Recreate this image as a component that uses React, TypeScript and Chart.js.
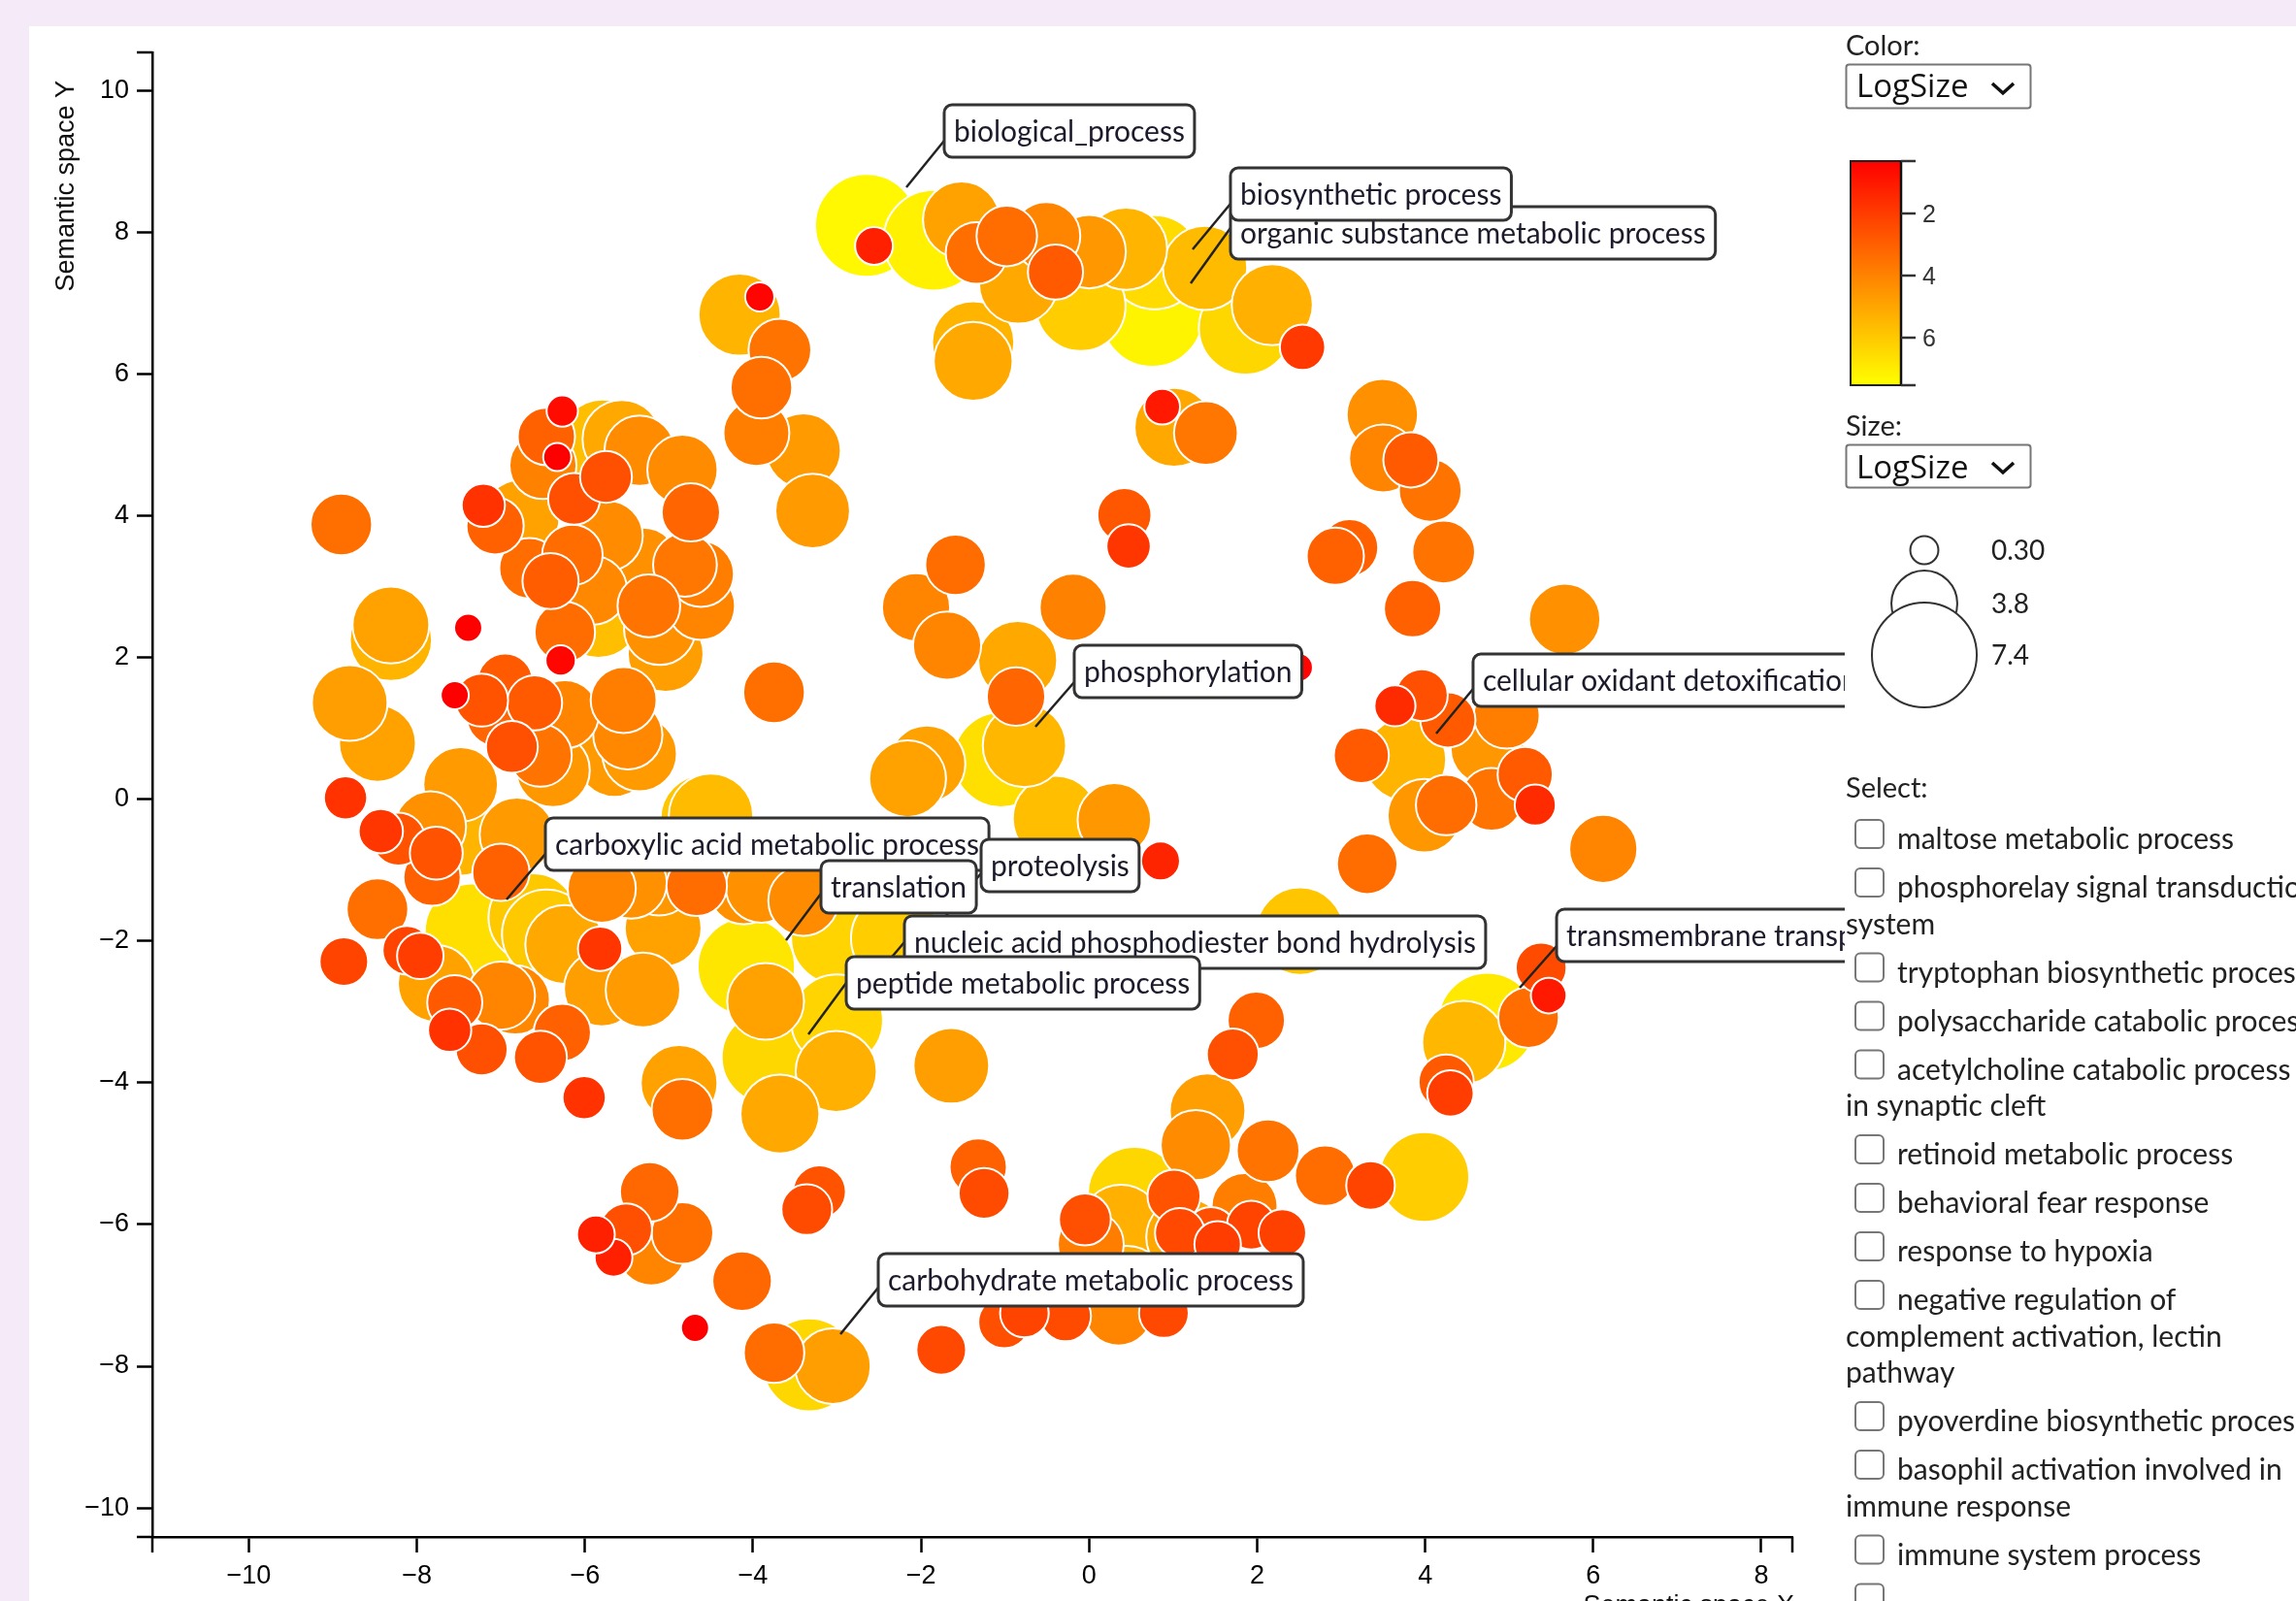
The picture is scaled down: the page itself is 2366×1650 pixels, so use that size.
import React, { useEffect, useRef } from "react";
import { Chart, registerables } from "chart.js";

Chart.register(...registerables);

// ---------- data (semantic space coordinates and LogSize of each GO term) ----------
const TERM_X = [
  -2.65, -2.56, -1.85, -1.52, -1.34, -0.98, -0.84, -0.51, -0.40, 0.00,
  0.44, -0.10, 0.78, 1.38, 0.75, 1.86, 2.18, 2.54, -4.16, -3.92,
  -3.68, -3.90, -3.96, -3.40, -3.29, -1.38, -1.38, 0.87, 1.01, 1.39,
  -8.90, -6.27, -6.46, -6.50, -6.33, -6.13, -5.75, -5.79, -5.56, -5.35,
  -4.84, -4.74, -7.21, -7.07, -6.76, -6.66, -6.41, -6.15, -5.73, -5.91,
  -5.84, -5.31, -4.81, -4.62, -5.24, -5.11, -4.62, -5.04, -6.24, -6.29,
  -7.39, -8.31, -8.31, -8.80, -8.47, -7.55, -8.85, -7.48, -6.95, -7.06,
  -6.87, -6.60, -6.24, -6.53, -6.38, -5.54, -5.49, -5.65, -5.35, -7.23,
  -8.43, -8.22, -7.84, -7.49, -7.82, -7.77, -8.47, -8.87, -8.12, -7.96,
  -7.34, -7.00, -6.81, -6.62, -6.46, -6.24, -7.77, -7.00, -6.83, -7.55,
  -7.61, -7.23, -6.53, -6.27, -5.82, -5.80, -5.31, -5.07, -5.45, -5.80,
  -5.12, -4.67, -4.11, -4.50, -4.08, -4.88, -4.84, -6.01, -5.23, -4.84,
  -5.21, -5.66, -5.87, -5.51, -1.59, -2.06, -1.69, -0.19, 0.42, 0.47,
  -3.75, -0.85, -0.87, 2.49, -0.77, -1.05, -1.93, -2.16, -0.40, 0.30,
  0.85, 3.31, 2.51, 1.99, 1.71, -4.58, -3.90, -3.40, -3.85, -3.00,
  -2.30, -3.00, -3.82, -1.64, -3.01, -3.68, 1.41, 1.27, 2.13, 2.81,
  3.35, 3.99, -1.32, -1.25, -3.21, -3.36, -4.13, -4.69, -3.75, -3.33,
  -3.05, -1.76, -0.05, 0.54, 1.01, 1.15, 1.85, 1.93, 2.30, 1.08,
  1.45, 1.53, 0.02, 0.38, -1.01, -0.28, 0.35, 0.89, -0.77, 0.45,
  3.49, 3.50, 3.83, 4.06, 3.10, 2.93, 4.22, 3.85, 5.66, 3.64,
  3.96, 4.27, 3.76, 3.24, 4.74, 4.97, 5.19, 4.79, 4.25, 3.99,
  5.31, 6.12, 5.38, 5.47, 5.23, 4.74, 4.46, 4.25, 4.30,
];
const TERM_Y = [
  8.10, 7.81, 7.89, 8.18, 7.71, 7.95, 7.27, 7.95, 7.44, 7.73,
  7.77, 6.96, 7.58, 7.50, 6.82, 6.65, 6.98, 6.38, 6.84, 7.09,
  6.34, 5.81, 5.17, 4.92, 4.07, 6.45, 6.18, 5.54, 5.25, 5.17,
  3.88, 5.48, 5.12, 4.71, 4.83, 4.24, 4.55, 5.04, 5.08, 4.92,
  4.65, 4.05, 4.15, 3.86, 3.97, 3.26, 3.08, 3.45, 3.72, 2.95,
  2.60, 3.33, 3.31, 3.18, 2.73, 2.40, 2.73, 2.05, 2.36, 1.96,
  2.42, 2.25, 2.46, 1.36, 0.79, 1.47, 0.02, 0.21, 1.67, 1.16,
  0.74, 1.36, 1.20, 0.62, 0.41, 1.40, 0.91, 0.56, 0.64, 1.40,
  -0.45, -0.56, -0.39, -0.50, -1.10, -0.76, -1.55, -2.29, -2.13, -2.21,
  -1.86, -1.03, -0.50, -1.67, -1.90, -2.05, -2.60, -2.77, -2.83, -2.87,
  -3.26, -3.53, -3.64, -3.29, -2.11, -2.67, -2.69, -1.82, -1.18, -1.26,
  -1.12, -1.22, -1.26, -0.23, -2.36, -4.01, -4.38, -4.21, -5.54, -6.12,
  -6.38, -6.47, -6.14, -6.07, 3.31, 2.71, 2.17, 2.71, 4.01, 3.57,
  1.51, 1.96, 1.45, 1.86, 0.76, 0.56, 0.50, 0.29, -0.27, -0.29,
  -0.87, -0.91, -1.86, -3.12, -3.60, -0.27, -1.24, -1.43, -2.85, -1.96,
  -1.96, -3.12, -3.64, -3.76, -3.84, -4.44, -4.40, -4.88, -4.96, -5.31,
  -5.45, -5.33, -5.19, -5.56, -5.54, -5.79, -6.80, -7.46, -7.81, -7.98,
  -8.00, -7.77, -5.93, -5.56, -5.60, -6.18, -5.74, -6.01, -6.12, -6.12,
  -6.12, -6.28, -6.28, -6.01, -7.38, -7.29, -7.23, -7.25, -7.25, -6.86,
  5.43, 4.81, 4.79, 4.36, 3.55, 3.43, 3.49, 2.69, 2.54, 1.32,
  1.47, 1.12, 0.56, 0.62, 0.72, 1.18, 0.35, 0.00, -0.08, -0.23,
  -0.08, -0.70, -2.38, -2.77, -3.08, -3.14, -3.43, -3.99, -4.15,
];
const TERM_LOGSIZE = [
  7.2, 1.2, 7.0, 4.8, 3.4, 3.3, 5.0, 4.0, 2.8, 4.5,
  5.3, 6.0, 6.4, 5.5, 7.1, 6.3, 5.2, 1.9, 5.3, 0.4,
  3.5, 3.4, 3.8, 4.6, 4.6, 5.3, 5.0, 1.0, 5.0, 3.6,
  3.4, 0.6, 3.0, 3.9, 0.3, 2.5, 2.5, 5.6, 5.0, 4.2,
  4.2, 3.1, 1.7, 3.0, 4.8, 3.3, 2.9, 3.3, 4.2, 4.1,
  5.6, 4.3, 3.6, 3.8, 3.5, 4.3, 4.0, 4.7, 3.3, 0.5,
  0.3, 5.3, 4.8, 4.7, 4.8, 0.3, 1.7, 4.6, 2.8, 3.1,
  2.5, 2.8, 4.0, 3.5, 4.5, 3.8, 4.1, 4.6, 4.6, 2.6,
  1.8, 2.6, 4.3, 5.3, 3.0, 2.6, 3.4, 2.2, 2.2, 2.0,
  6.5, 3.0, 4.6, 5.9, 5.9, 5.0, 4.8, 4.0, 4.1, 2.8,
  1.7, 2.5, 2.6, 3.0, 1.8, 4.7, 4.6, 4.8, 4.3, 4.0,
  4.5, 3.3, 4.3, 5.5, 6.7, 4.8, 3.4, 1.7, 3.2, 3.4,
  4.0, 1.2, 1.2, 2.5, 3.3, 4.0, 4.0, 3.9, 2.7, 1.8,
  3.4, 5.0, 3.1, 0.4, 5.4, 6.5, 4.8, 4.8, 5.6, 4.5,
  1.3, 3.3, 5.8, 3.0, 2.5, 5.8, 4.3, 4.2, 4.8, 6.2,
  6.0, 6.2, 6.3, 4.7, 5.2, 5.0, 4.7, 4.2, 3.5, 3.3,
  2.2, 6.0, 3.0, 2.4, 2.6, 2.4, 3.2, 0.3, 3.3, 6.3,
  4.7, 2.3, 2.5, 6.3, 2.6, 5.0, 3.8, 2.2, 2.1, 2.3,
  2.5, 2.0, 3.8, 5.2, 2.5, 2.4, 4.0, 2.3, 2.2, 5.0,
  4.3, 4.0, 2.8, 3.5, 3.0, 3.0, 3.5, 3.0, 4.3, 1.5,
  2.5, 2.8, 5.3, 2.8, 4.5, 3.8, 2.8, 3.5, 3.3, 4.5,
  1.5, 4.0, 2.4, 1.0, 3.3, 6.8, 5.4, 2.8, 2.0,
];

const X_TICKS = [-10, -8, -6, -4, -2, 0, 2, 4, 6, 8];
const Y_TICKS = [-10, -8, -6, -4, -2, 0, 2, 4, 6, 8, 10];
const X_MIN = -11.149;
const X_MAX = 8.37;
const Y_MIN = -10.41;
const Y_MAX = 10.541;
const X_TITLE = "Semantic space X";
const Y_TITLE = "Semantic space Y";

// labelled terms: text and the point (in semantic space) where the leader line starts
const LABEL_TEXT = [
  "biological_process",
  "organic substance metabolic process",
  "biosynthetic process",
  "phosphorylation",
  "cellular oxidant detoxification",
  "carboxylic acid metabolic process",
  "proteolysis",
  "translation",
  "nucleic acid phosphodiester bond hydrolysis",
  "peptide metabolic process",
  "transmembrane transport",
  "carbohydrate metabolic process",
];
const LABEL_X = [-2.175, 1.209, 1.232, -0.639, 4.131, -6.933, -1.782, -3.607, -2.66, -3.341, 5.125, -2.96];
const LABEL_Y = [8.638, 7.282, 7.761, 1.024, 0.928, -1.413, -1.755, -1.988, -2.659, -3.317, -2.659, -7.548];
// layout only: box offset from the anchor (px) and where the leader meets the box
const LABEL_LAYOUT = [
  [39, -85, 37], [41, -79, 22], [39, -84, 37], [40, -84, 38], [38, -82, 36], [40, -84, 37],
  [43, -87, 35], [36, -82, 34], [40, -74, 27], [39, -80, 27], [38, -81, 38], [39, -83, 35],
];

// legends
const LOGSIZE_MIN = 0.3;
const LOGSIZE_MAX = 7.4;
const COLOR_TICKS = [2, 4, 6];
const SIZE_LEGEND = [0.3, 3.8, 7.4];
const SIZE_LEGEND_LABELS = ["0.30", "3.8", "7.4"];
const SELECT_OPTIONS = ["LogSize", "LogSize"];
const SELECT_TERMS = [
  ["maltose metabolic process"],
  ["phosphorelay signal transduction", "system"],
  ["tryptophan biosynthetic process"],
  ["polysaccharide catabolic process"],
  ["acetylcholine catabolic process", "in synaptic cleft"],
  ["retinoid metabolic process"],
  ["behavioral fear response"],
  ["response to hypoxia"],
  ["negative regulation of", "complement activation, lectin", "pathway"],
  ["pyoverdine biosynthetic process"],
  ["basophil activation involved in", "immune response"],
  ["immune system process"],
  [""],
];

// ---------- helpers ----------
function colorOf(v: number): string {
  const t = Math.max(0, Math.min(1, (v - LOGSIZE_MIN) / (LOGSIZE_MAX - LOGSIZE_MIN)));
  return `rgb(255,${Math.round(255 * t)},0)`;
}
function radiusOf(v: number): number {
  return 12.8 + 5.57 * v;
}
function fmtTick(v: number): string {
  return v < 0 ? "\u2212" + Math.abs(v) : String(v);
}

const AXIS_FONT = '"Liberation Sans", Arial, sans-serif';
const LABEL_FONT = 'Lato, "Open Sans", sans-serif';

const overlayPlugin = {
  id: "overlay",
  afterDatasetsDraw(chart: any) {
    const { ctx, chartArea: a, scales } = chart;
    const xs = scales.x;
    const ys = scales.y;
    ctx.save();
    // outer ticks (d3 style)
    ctx.strokeStyle = "#000";
    ctx.lineWidth = 2.5;
    ctx.beginPath();
    ctx.moveTo(a.left - 16, a.top);
    ctx.lineTo(a.left, a.top);
    ctx.moveTo(a.left - 16, a.bottom);
    ctx.lineTo(a.left, a.bottom);
    ctx.moveTo(a.left, a.bottom);
    ctx.lineTo(a.left, a.bottom + 16);
    ctx.moveTo(a.right, a.bottom);
    ctx.lineTo(a.right, a.bottom + 16);
    ctx.stroke();

    // axis titles
    ctx.fillStyle = "#111";
    ctx.font = `27px ${AXIS_FONT}`;
    ctx.textBaseline = "alphabetic";
    ctx.save();
    ctx.translate(46, a.top + 29);
    ctx.rotate(-Math.PI / 2);
    ctx.textAlign = "right";
    ctx.fillText(Y_TITLE, 0, 0);
    ctx.restore();
    ctx.textAlign = "right";
    ctx.fillText(X_TITLE, a.right + 2, a.bottom + 79);

    // term labels with leader lines
    ctx.font = `30px ${LABEL_FONT}`;
    ctx.textAlign = "left";
    for (let i = 0; i < LABEL_TEXT.length; i++) {
      const ax = xs.getPixelForValue(LABEL_X[i]);
      const ay = ys.getPixelForValue(LABEL_Y[i]);
      const [dx, dy, ly] = LABEL_LAYOUT[i];
      const bx = ax + dx;
      const by = ay + dy;
      const w = ctx.measureText(LABEL_TEXT[i]).width + 20;
      const h = 54;
      ctx.strokeStyle = "#222";
      ctx.lineWidth = 2.5;
      ctx.beginPath();
      ctx.moveTo(ax, ay);
      ctx.lineTo(bx, by + ly);
      ctx.stroke();
      ctx.beginPath();
      ctx.roundRect(bx, by, w, h, 8);
      ctx.fillStyle = "#fff";
      ctx.fill();
      ctx.strokeStyle = "#333";
      ctx.lineWidth = 3;
      ctx.stroke();
      ctx.fillStyle = "#1b1b2b";
      ctx.fillText(LABEL_TEXT[i], bx + 10, by + 38);
    }
    ctx.restore();
  },
};

function RightPanel() {
  const cbTop = 166;
  const cbBottom = 397;
  const tickY = (v: number) => 220 + (v - 2) * 32;
  const legendCy = [567, 622, 675];
  let base = 875;
  const rows: any[] = [];
  SELECT_TERMS.forEach((lines, i) => {
    rows.push(
      <rect key={"cb" + i} x={1912} y={base - 30} width={29} height={29} rx={5} fill="#fff" stroke="#777" strokeWidth={2} />
    );
    lines.forEach((ln, j) => {
      rows.push(
        <text key={"t" + i + "_" + j} x={j === 0 ? 1955 : 1902} y={base} fontFamily={LABEL_FONT} fontSize={30} fill="#222">
          {ln}
        </text>
      );
      if (j < lines.length - 1) base += 37.5;
    });
    base += 50;
  });
  return (
    <svg
      style={{ position: "absolute", left: 1880, top: 0 }}
      width={486}
      height={1650}
      viewBox="1880 0 486 1650"
    >
      <defs>
        <linearGradient id="cbar" x1="0" y1="0" x2="0" y2="1">
          <stop offset="0" stopColor={colorOf(LOGSIZE_MIN)} />
          <stop offset="0.5" stopColor={colorOf((LOGSIZE_MIN + LOGSIZE_MAX) / 2)} />
          <stop offset="1" stopColor={colorOf(LOGSIZE_MAX)} />
        </linearGradient>
      </defs>
      <text x={1902} y={57} fontFamily={LABEL_FONT} fontSize={29} fill="#222">Color:</text>
      <rect x={1902.5} y={66.5} width={190} height={45} rx={3} fill="#fff" stroke="#767676" strokeWidth={2} />
      <text x={1913} y={100} fontFamily={'"Open Sans", Lato, sans-serif'} fontSize={33} fill="#111">{SELECT_OPTIONS[0]}</text>
      <polyline points="2053,86 2064,96 2075,86" fill="none" stroke="#111" strokeWidth={3.5} />

      <rect x={1907} y={cbTop} width={52} height={cbBottom - cbTop} fill="url(#cbar)" stroke="#222" strokeWidth={2} />
      <line x1={1959} y1={cbTop} x2={1959} y2={cbBottom} stroke="#111" strokeWidth={2.5} />
      {[cbTop, cbBottom].map((y, i) => (
        <line key={"ot" + i} x1={1959} y1={y} x2={1974} y2={y} stroke="#333" strokeWidth={2.5} />
      ))}
      {COLOR_TICKS.map((v) => (
        <g key={"ct" + v}>
          <line x1={1959} y1={tickY(v)} x2={1974} y2={tickY(v)} stroke="#333" strokeWidth={2.5} />
          <text x={1981} y={tickY(v) + 9} fontFamily={AXIS_FONT} fontSize={25} fill="#333">{v}</text>
        </g>
      ))}

      <text x={1902} y={449} fontFamily={LABEL_FONT} fontSize={29} fill="#222">Size:</text>
      <rect x={1902.5} y={458.5} width={190} height={44} rx={3} fill="#fff" stroke="#767676" strokeWidth={2} />
      <text x={1913} y={493} fontFamily={'"Open Sans", Lato, sans-serif'} fontSize={33} fill="#111">{SELECT_OPTIONS[1]}</text>
      <polyline points="2053,477 2064,487 2075,477" fill="none" stroke="#111" strokeWidth={3.5} />

      {SIZE_LEGEND.map((v, i) => (
        <circle key={"sc" + i} cx={1983} cy={legendCy[i]} r={radiusOf(v)} fill="#fff" stroke="#333" strokeWidth={2} />
      ))}
      {SIZE_LEGEND_LABELS.map((t, i) => (
        <text key={"sl" + i} x={2052} y={legendCy[i] + 10} fontFamily={LABEL_FONT} fontSize={28} fill="#222">{t}</text>
      ))}

      <text x={1902} y={822} fontFamily={LABEL_FONT} fontSize={29} fill="#222">Select:</text>
      {rows}
    </svg>
  );
}

export default function App() {
  const ref = useRef<HTMLCanvasElement>(null);
  useEffect(() => {
    const canvas = ref.current;
    if (!canvas) return;
    const points = TERM_X.map((x, i) => ({
      x,
      y: TERM_Y[i],
      r: radiusOf(TERM_LOGSIZE[i]),
      v: TERM_LOGSIZE[i],
    })).sort((p, q) => q.v - p.v);

    const tickFont = { family: AXIS_FONT, size: 27 };
    const chart = new Chart(canvas, {
      type: "bubble",
      data: {
        datasets: [
          {
            data: points,
            backgroundColor: (c: any) => colorOf(c.raw ? c.raw.v : 4),
            borderColor: "#ffffff",
            borderWidth: 2,
            hoverBorderWidth: 2,
            hoverRadius: 0,
            clip: false as any,
          } as any,
        ],
      },
      options: {
        responsive: false,
        animation: false,
        devicePixelRatio: 1,
        events: [],
        layout: { autoPadding: false, padding: { top: 27, right: 54, left: 0, bottom: 0 } },
        plugins: {
          legend: { display: false },
          tooltip: { enabled: false },
          title: { display: false },
        },
        scales: {
          x: {
            type: "linear",
            min: X_MIN,
            max: X_MAX,
            afterBuildTicks: (s: any) => {
              s.ticks = X_TICKS.map((value) => ({ value }));
            },
            afterFit: (s: any) => {
              s.height = 66;
              s.paddingLeft = 0;
              s.paddingRight = 0;
            },
            grid: { drawOnChartArea: false, drawTicks: true, tickLength: 16, tickWidth: 2.5, tickColor: "#000" },
            border: { display: true, color: "#000", width: 2.5 },
            ticks: {
              font: tickFont,
              color: "#000",
              padding: 8,
              maxRotation: 0,
              autoSkip: false,
              callback: (v: any) => fmtTick(Number(v)),
            },
          },
          y: {
            type: "linear",
            min: Y_MIN,
            max: Y_MAX,
            afterBuildTicks: (s: any) => {
              s.ticks = Y_TICKS.map((value) => ({ value }));
            },
            afterFit: (s: any) => {
              s.width = 127;
              s.paddingTop = 0;
              s.paddingBottom = 0;
            },
            grid: { drawOnChartArea: false, drawTicks: true, tickLength: 16, tickWidth: 2.5, tickColor: "#000" },
            border: { display: true, color: "#000", width: 2.5 },
            ticks: {
              font: tickFont,
              color: "#000",
              padding: 8,
              autoSkip: false,
              callback: (v: any) => fmtTick(Number(v)),
            },
          },
        },
      } as any,
      plugins: [overlayPlugin as any],
    });
    return () => chart.destroy();
  }, []);

  return (
    <div
      style={{
        position: "fixed",
        left: 0,
        top: 0,
        width: 2366,
        height: 1650,
        background: "#f5eaf7",
        overflow: "hidden",
      }}
    >
      <div style={{ position: "absolute", left: 30, top: 27, width: 2336, height: 1623, background: "#fff" }} />
      <canvas
        ref={ref}
        width={1871}
        height={1623}
        style={{ position: "absolute", left: 30, top: 27, width: 1871, height: 1623 }}
      />
      <RightPanel />
    </div>
  );
}
